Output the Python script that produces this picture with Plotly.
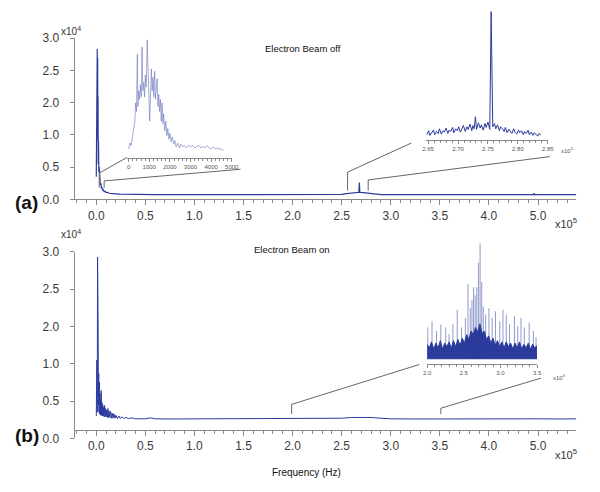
import plotly.graph_objects as go

# ---- data ----
# panel (a): beam off, freq in 1e5 Hz, amplitude in axis units
a_freq = [0.000, 0.004, 0.008, 0.010, 0.012, 0.014, 0.016, 0.018, 0.020, 0.023, 0.026, 0.030,
          0.034, 0.038, 0.042, 0.047, 0.052, 0.058, 0.065, 0.072, 0.080, 0.090, 0.100, 0.115,
          0.130, 0.150, 0.175, 0.200, 0.240, 0.300, 0.400, 0.600, 0.900, 1.300, 1.800, 2.300,
          2.500, 2.550, 2.600, 2.640, 2.675, 2.680, 2.685, 2.720, 2.760, 2.800, 2.850, 2.900,
          3.300, 3.800, 4.300, 4.455, 4.460, 4.465, 4.890]
a_amp = [0.35, 1.90, 0.60, 2.33, 1.20, 2.20, 0.90, 1.60, 0.55, 0.90, 0.42, 0.50,
         0.28, 0.33, 0.22, 0.25, 0.17, 0.19, 0.14, 0.15, 0.12, 0.125, 0.105, 0.11,
         0.095, 0.095, 0.088, 0.085, 0.080, 0.078, 0.075, 0.075, 0.074, 0.075, 0.074, 0.075,
         0.076, 0.090, 0.100, 0.105, 0.110, 0.260, 0.110, 0.105, 0.100, 0.090, 0.080, 0.075,
         0.075, 0.074, 0.075, 0.075, 0.095, 0.075, 0.074]

# panel (b): beam on
b_freq = [0.000, 0.006, 0.010, 0.013, 0.016, 0.019, 0.022, 0.025, 0.028, 0.031, 0.034, 0.037,
          0.040, 0.043, 0.046, 0.050, 0.054, 0.058, 0.062, 0.066, 0.070, 0.075, 0.080, 0.085,
          0.090, 0.095, 0.100, 0.106, 0.112, 0.118, 0.124, 0.130, 0.138, 0.146, 0.154, 0.162,
          0.170, 0.180, 0.190, 0.200, 0.215, 0.230, 0.245, 0.260, 0.280, 0.300, 0.330, 0.360,
          0.400, 0.500, 0.550, 0.600, 0.750, 1.000, 1.250, 1.500, 1.750, 2.000, 2.250, 2.500,
          2.600, 2.700, 2.800, 2.900, 3.000, 3.250, 3.500, 3.750, 4.000, 4.250, 4.500, 4.750, 4.890]
b_amp = [0.30, 1.05, 0.35, 2.43, 0.40, 1.52, 0.45, 0.87, 0.35, 0.75, 0.33, 0.60,
         0.32, 0.52, 0.31, 0.64, 0.31, 0.48, 0.30, 0.45, 0.30, 0.42, 0.29, 0.44,
         0.29, 0.40, 0.29, 0.38, 0.28, 0.40, 0.28, 0.37, 0.28, 0.36, 0.27, 0.34,
         0.27, 0.33, 0.27, 0.31, 0.265, 0.30, 0.265, 0.29, 0.265, 0.28, 0.265, 0.275,
         0.262, 0.262, 0.275, 0.262, 0.26, 0.262, 0.26, 0.262, 0.26, 0.262, 0.265, 0.27,
         0.28, 0.285, 0.28, 0.27, 0.262, 0.26, 0.262, 0.26, 0.262, 0.26, 0.262, 0.26, 0.262]

# inset 1: 0-5000 Hz of beam-off spectrum (relative height)
ins1_freq = [0, 60, 120, 180, 240, 300, 340, 380, 420, 450, 490, 530, 570, 610, 650, 690, 730,
             770, 810, 850, 900, 940, 980, 1020, 1060, 1100, 1140, 1180, 1220, 1260, 1300, 1340,
             1380, 1420, 1460, 1500, 1540, 1580, 1620, 1660, 1700, 1750, 1800, 1850, 1900, 1950,
             2000, 2060, 2120, 2180, 2240, 2300, 2380, 2460, 2540, 2620, 2700, 2800, 2900, 3000,
             3100, 3200, 3300, 3400, 3500, 3600, 3700, 3800, 3900, 4000, 4100, 4200, 4300, 4400,
             4500, 4600]
ins1_amp = [0.07, 0.12, 0.10, 0.16, 0.22, 0.30, 0.45, 0.38, 0.85, 0.42, 0.55, 0.48, 0.60, 0.50,
            0.91, 0.55, 0.62, 0.50, 0.68, 0.58, 0.97, 0.60, 0.52, 0.30, 0.62, 0.73, 0.55, 0.66,
            0.50, 0.71, 0.48, 0.58, 0.65, 0.42, 0.52, 0.38, 0.48, 0.30, 0.45, 0.28, 0.36, 0.22,
            0.30, 0.18, 0.24, 0.15, 0.20, 0.13, 0.17, 0.11, 0.14, 0.09, 0.12, 0.08, 0.11, 0.09,
            0.10, 0.08, 0.10, 0.09, 0.10, 0.08, 0.09, 0.10, 0.08, 0.09, 0.08, 0.10, 0.08, 0.07,
            0.09, 0.07, 0.08, 0.07, 0.07, 0.06]

# inset 2: 2.65-2.85 x1e5 Hz of beam-off spectrum
ins2_freq = [2.648, 2.651, 2.653, 2.656, 2.659, 2.661, 2.664, 2.667, 2.669, 2.672, 2.675, 2.677,
             2.680, 2.683, 2.685, 2.688, 2.691, 2.693, 2.696, 2.699, 2.701, 2.704, 2.707, 2.709,
             2.712, 2.715, 2.717, 2.720, 2.723, 2.725, 2.727, 2.729, 2.731, 2.734, 2.737, 2.739,
             2.742, 2.745, 2.747, 2.750, 2.753, 2.7553, 2.758, 2.761, 2.763, 2.766, 2.769, 2.771,
             2.774, 2.777, 2.779, 2.782, 2.785, 2.787, 2.790, 2.793, 2.795, 2.798, 2.801, 2.803,
             2.806, 2.809, 2.811, 2.814, 2.817, 2.819, 2.822, 2.825, 2.827, 2.830, 2.833, 2.835,
             2.838]
ins2_amp = [0.04, 0.07, 0.035, 0.06, 0.075, 0.04, 0.065, 0.05, 0.085, 0.045, 0.07, 0.06,
            0.09, 0.05, 0.075, 0.065, 0.095, 0.055, 0.085, 0.07, 0.10, 0.06, 0.09, 0.11,
            0.065, 0.10, 0.08, 0.12, 0.07, 0.11, 0.085, 0.175, 0.08, 0.13, 0.09, 0.115,
            0.075, 0.125, 0.095, 0.135, 0.08, 0.965, 0.10, 0.125, 0.085, 0.115, 0.07, 0.10,
            0.085, 0.065, 0.095, 0.055, 0.08, 0.065, 0.05, 0.085, 0.06, 0.045, 0.075, 0.055,
            0.07, 0.04, 0.065, 0.05, 0.075, 0.04, 0.06, 0.035, 0.055, 0.045, 0.03, 0.05,
            0.04]

# inset 3: 2.0-3.5 x1e5 Hz of beam-on spectrum, dense band + spikes
ins3_band_freq = [2.00, 2.03, 2.06, 2.09, 2.12, 2.15, 2.18, 2.21, 2.24, 2.27, 2.30, 2.33, 2.36,
                  2.39, 2.42, 2.45, 2.48, 2.51, 2.54, 2.57, 2.60, 2.63, 2.66, 2.69, 2.72, 2.75,
                  2.78, 2.81, 2.84, 2.87, 2.90, 2.93, 2.96, 2.99, 3.02, 3.05, 3.08, 3.11, 3.14,
                  3.17, 3.20, 3.23, 3.26, 3.29, 3.32, 3.35, 3.38, 3.41, 3.44, 3.47, 3.50]
ins3_band_top = [0.16, 0.13, 0.18, 0.12, 0.17, 0.13, 0.19, 0.12, 0.17, 0.14, 0.18, 0.13, 0.19,
                 0.14, 0.20, 0.15, 0.21, 0.17, 0.24, 0.20, 0.27, 0.24, 0.30, 0.26, 0.33, 0.25,
                 0.27, 0.20, 0.23, 0.17, 0.21, 0.15, 0.19, 0.14, 0.18, 0.13, 0.18, 0.14, 0.17,
                 0.12, 0.17, 0.13, 0.18, 0.12, 0.16, 0.13, 0.17, 0.12, 0.16, 0.13, 0.15]
ins3_floor = 0.04
ins3_spike_freq = [2.009, 2.067, 2.129, 2.187, 2.254, 2.299, 2.352, 2.411, 2.469, 2.522, 2.558,
                   2.589, 2.612, 2.634, 2.656, 2.678, 2.700, 2.723, 2.745, 2.767, 2.799, 2.844,
                   2.888, 2.933, 2.991, 3.035, 3.080, 3.125, 3.192, 3.236, 3.281, 3.326, 3.393,
                   3.450, 3.486]
ins3_spike_amp = [0.30, 0.35, 0.27, 0.325, 0.30, 0.245, 0.325, 0.446, 0.30, 0.379, 0.661,
                  0.46, 0.527, 0.634, 0.567, 0.634, 0.836, 0.997, 0.677, 0.473, 0.406, 0.46,
                  0.379, 0.433, 0.35, 0.446, 0.406, 0.325, 0.392, 0.312, 0.379, 0.30, 0.339,
                  0.27, 0.218]

main_ticks = [0, 0.5, 1.0, 1.5, 2.0, 2.5, 3.0, 3.5, 4.0, 4.5]
main_ticktext = ['0.0', '0.5', '1.0', '1.5', '2.0', '2.5', '3.0', '3.5', '4.0', '5.0']
y_ticks = [0, 0.5, 1.0, 1.5, 2.0, 2.5]
y_ticktext = ['0.0', '0.5', '1.0', '2.0', '2.5', '3.0']

W, H = 600, 492
BLUE = '#2b3b9c'
AXC = '#8a8a8a'
FONT = 'Liberation Sans, Arial, sans-serif'


def px(x):
    return x / W


def py(y):
    return 1 - y / H


X_RANGE = [-0.22, 4.89]
X_DOM = [px(72), px(583)]

fig = go.Figure()
fig.add_trace(go.Scatter(x=a_freq, y=a_amp, mode='lines', line=dict(color=BLUE, width=1.2),
                         xaxis='x', yaxis='y'))
fig.add_trace(go.Scatter(x=b_freq, y=b_amp, mode='lines', line=dict(color=BLUE, width=1),
                         xaxis='x2', yaxis='y2'))
fig.add_trace(go.Scatter(x=ins1_freq, y=ins1_amp, mode='lines',
                         line=dict(color='rgba(110,120,190,0.7)', width=0.9),
                         xaxis='x3', yaxis='y3'))
fig.add_trace(go.Scatter(x=ins2_freq, y=ins2_amp, mode='lines',
                         line=dict(color=BLUE, width=1), xaxis='x4', yaxis='y4'))

# inset 3: spikes then band
sx, sy = [], []
for f, a in zip(ins3_spike_freq, ins3_spike_amp):
    sx += [f, f, None]
    sy += [ins3_floor, a, None]
fig.add_trace(go.Scatter(x=sx, y=sy, mode='lines', line=dict(color='rgba(70,85,170,0.6)', width=1),
                         xaxis='x5', yaxis='y5'))
fig.add_trace(go.Scatter(x=ins3_band_freq, y=[ins3_floor] * len(ins3_band_freq), mode='lines',
                         line=dict(color=BLUE, width=1), xaxis='x5', yaxis='y5'))
fig.add_trace(go.Scatter(x=ins3_band_freq, y=ins3_band_top, mode='lines', fill='tonexty',
                         fillcolor=BLUE, line=dict(color=BLUE, width=1), xaxis='x5', yaxis='y5'))

main_x = dict(range=X_RANGE, domain=X_DOM, showline=True, linecolor=AXC, linewidth=1,
              ticks='outside', ticklen=5, tickcolor=AXC, tickmode='array', tickvals=main_ticks,
              ticktext=main_ticktext, tickfont=dict(size=12, color='#3a3a3a'),
              minor=dict(tickmode='array', tickvals=[i / 10 for i in range(-2, 49)],
                         ticks='outside', ticklen=3, tickcolor=AXC),
              showgrid=False, zeroline=False)
main_y = dict(range=[0, 2.5], showline=True, linecolor=AXC, linewidth=1, ticks='outside',
              ticklen=4, tickcolor=AXC, tickmode='array', tickvals=y_ticks, ticktext=y_ticktext,
              tickfont=dict(size=12, color='#3a3a3a'), ticklabelstandoff=8,
              showgrid=False, zeroline=False)


def inset_x(dom, rng, vals, text, minor_vals):
    return dict(domain=dom, range=rng, showline=True, linecolor=AXC, linewidth=1,
                ticks='outside', ticklen=3, tickcolor=AXC, tickmode='array', tickvals=vals,
                ticktext=text, tickfont=dict(size=6, color='#555'),
                minor=dict(tickmode='array', tickvals=minor_vals, ticks='outside', ticklen=2,
                           tickcolor=AXC),
                showgrid=False, zeroline=False, ticklabelstandoff=0)


fig.update_layout(
    width=W, height=H, margin=dict(l=0, r=0, t=0, b=0), autosize=False,
    paper_bgcolor='white', plot_bgcolor='rgba(0,0,0,0)', showlegend=False,
    font=dict(family=FONT),
    xaxis=dict(main_x, anchor='y'),
    yaxis=dict(main_y, domain=[py(198), py(32)], anchor='x'),
    xaxis2=dict(main_x, anchor='free', position=py(435)),
    yaxis2=dict(main_y, domain=[py(444), py(252)], anchor='x2'),
    xaxis3=inset_x([px(125), px(232)], [-95, 5000], [0, 1000, 2000, 3000, 4000, 5000],
                   ['0', '1000', '2000', '3000', '4000', '5000'],
                   [i * 200 for i in range(26)]) | dict(anchor='y3'),
    yaxis3=dict(domain=[py(155), py(30)], range=[0, 1], visible=False, anchor='x3'),
    xaxis4=inset_x([px(430), px(554)], [2.6467, 2.85], [2.65, 2.70, 2.75, 2.80, 2.85],
                   ['2.65', '2.70', '2.75', '2.80', '2.85'],
                   [2.65 + i * 0.01 for i in range(21)]) | dict(anchor='y4'),
    yaxis4=dict(domain=[py(137), 1.0], range=[0, 1], visible=False, anchor='x4'),
    xaxis5=inset_x([px(431), px(543)], [2.0, 3.5], [2.0, 2.5, 3.0, 3.5],
                   ['2.0', '2.5', '3.0', '3.5'],
                   [2.0 + i * 0.1 for i in range(16)]) | dict(anchor='y5'),
    yaxis5=dict(domain=[py(367), py(243)], range=[0, 1], visible=False, anchor='x5'),
)


def to_paper(v):
    return X_DOM[0] + (v - X_RANGE[0]) / (X_RANGE[1] - X_RANGE[0]) * (X_DOM[1] - X_DOM[0])


# connectors: (mark freq, mark bottom px, mark top px, end x px, end y px)
connectors = [
    (0.03, 186, 171, 125, 155),
    (0.08, 186, 179, 241, 167),
    (2.56, 189, 170, 415, 140),
    (2.77, 189, 178, 556, 154),
    (1.99, 419, 409, 423, 368),
    (3.51, 419, 413, 547, 382),
]
shapes = []
for f, yb, yt, ex, ey in connectors:
    x0 = to_paper(f)
    shapes.append(dict(type='path', xref='paper', yref='paper',
                       path=f'M {x0} {py(yb)} L {x0} {py(yt)} L {px(ex)} {py(ey)}',
                       line=dict(color='#666', width=1)))
fig.update_layout(shapes=shapes)


def note(text, x, y, size, color='#333', **kw):
    fig.add_annotation(text=text, x=px(x), y=py(y), xref='paper', yref='paper',
                       showarrow=False, font=dict(size=size, color=color, family=FONT),
                       xanchor='center', yanchor='middle', **kw)


note('x10<sup>4</sup>', 68, 25, 10)
note('x10<sup>4</sup>', 68, 234, 10)
note('x10<sup>5</sup>', 572, 222, 11)
note('x10<sup>5</sup>', 572, 460, 11)
note('<b>(a)</b>', 23, 201, 19, '#111')
note('<b>(b)</b>', 23, 441, 19, '#111')
note('Electron Beam off', 305, 43, 9.5, '#111')
note('Electron Beam on', 293, 250, 9.5, '#111')
note('Frequency (Hz)', 308, 479, 10, '#111')
note('x10<sup>5</sup>', 574, 147, 6, '#555')
note('x10<sup>5</sup>', 566, 381, 6, '#555')

# page margin off so the 600x492 figure fills the window exactly
fig.write_html('out.html', config={'displayModeBar': False},
               post_script="document.body.style.margin='0';")
